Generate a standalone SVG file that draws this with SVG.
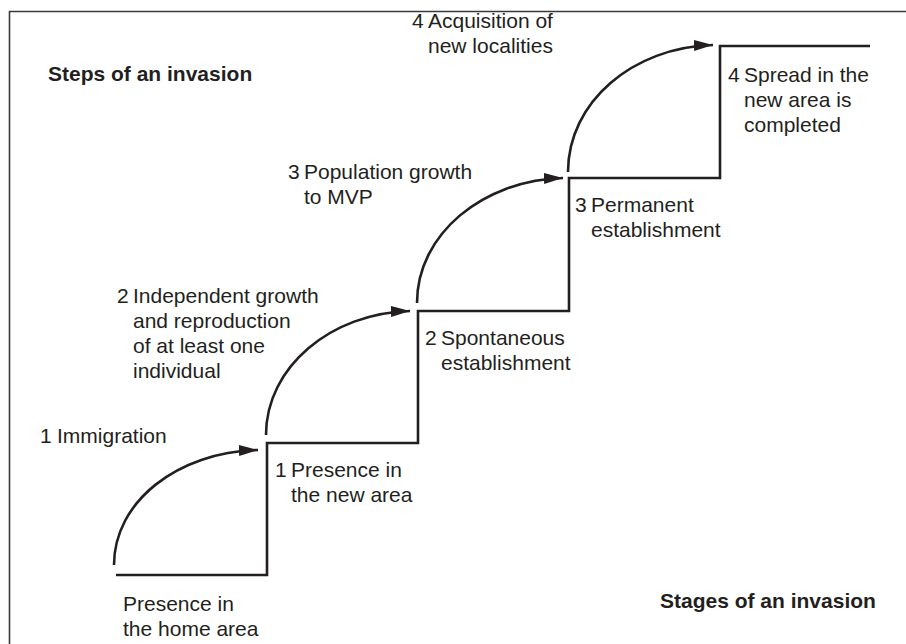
<svg xmlns="http://www.w3.org/2000/svg" width="906" height="644" viewBox="0 0 906 644">
  <style>
    .frame { fill: none; stroke: #3a3a3a; stroke-width: 1.6; }
    .stair { fill: none; stroke: #231f20; stroke-width: 2.6; stroke-linejoin: miter; }
    .arc { fill: none; stroke: #231f20; stroke-width: 2.6; marker-end: url(#head); }
    text { font-family: "Liberation Sans", Arial, Helvetica, sans-serif; fill: #231f20; font-size: 21px; }
    .title { font-weight: bold; }
  </style>
  <defs>
    <marker id="head" markerUnits="userSpaceOnUse" markerWidth="21" markerHeight="12" refX="19" refY="5.5" orient="auto">
      <path d="M0,0 L19,5.5 L0,11 Z" fill="#231f20"/>
    </marker>
  </defs>

  <rect width="906" height="644" fill="#ffffff"/>
  <!-- outer frame, open to the right and bottom -->
  <path class="frame" d="M9.5,660 L9.5,11.5 L920,11.5"/>

  <!-- stages: the staircase -->
  <g id="stages">
    <path class="stair" d="M116,575 L267,575 L267,443 L418,443 L418,311 L569,311 L569,178 L720,178 L720,46 L870,46"/>
  </g>

  <!-- steps: curved arrows between stages -->
  <g id="connectors">
    <path class="arc" d="M114,565 C114,502 177,452 258,450"/>
    <path class="arc" d="M266,435 C266,367 331,313 410,311"/>
    <path class="arc" d="M417,303 C417,234 483,180 563,178"/>
    <path class="arc" d="M568,172 C568,102 633,47 713,45"/>
  </g>

  <g id="title-steps">
    <text class="title" x="48" y="81">Steps of an invasion</text>
  </g>
  <g id="title-stages">
    <text class="title" x="660" y="608">Stages of an invasion</text>
  </g>

  <g id="stage-0">
    <text x="123" y="611">Presence in</text>
    <text x="123" y="636">the home area</text>
  </g>
  <g id="stage-1">
    <text x="275" y="477">1</text>
    <text x="291" y="477">Presence in</text>
    <text x="291" y="502">the new area</text>
  </g>
  <g id="stage-2">
    <text x="425" y="345">2</text>
    <text x="441" y="345">Spontaneous</text>
    <text x="441" y="370">establishment</text>
  </g>
  <g id="stage-3">
    <text x="575" y="212">3</text>
    <text x="591" y="212">Permanent</text>
    <text x="591" y="237">establishment</text>
  </g>
  <g id="stage-4">
    <text x="728" y="82">4</text>
    <text x="744" y="82">Spread in the</text>
    <text x="744" y="107">new area is</text>
    <text x="744" y="132">completed</text>
  </g>

  <g id="step-1">
    <text x="40" y="443">1</text>
    <text x="57" y="443">Immigration</text>
  </g>
  <g id="step-2">
    <text x="117" y="303">2</text>
    <text x="133" y="303">Independent growth</text>
    <text x="133" y="328">and reproduction</text>
    <text x="133" y="353">of at least one</text>
    <text x="133" y="378">individual</text>
  </g>
  <g id="step-3">
    <text x="288" y="179">3</text>
    <text x="304" y="179">Population growth</text>
    <text x="304" y="204">to MVP</text>
  </g>
  <g id="step-4">
    <text x="412" y="28">4</text>
    <text x="428" y="28">Acquisition of</text>
    <text x="428" y="53">new localities</text>
  </g>
</svg>
